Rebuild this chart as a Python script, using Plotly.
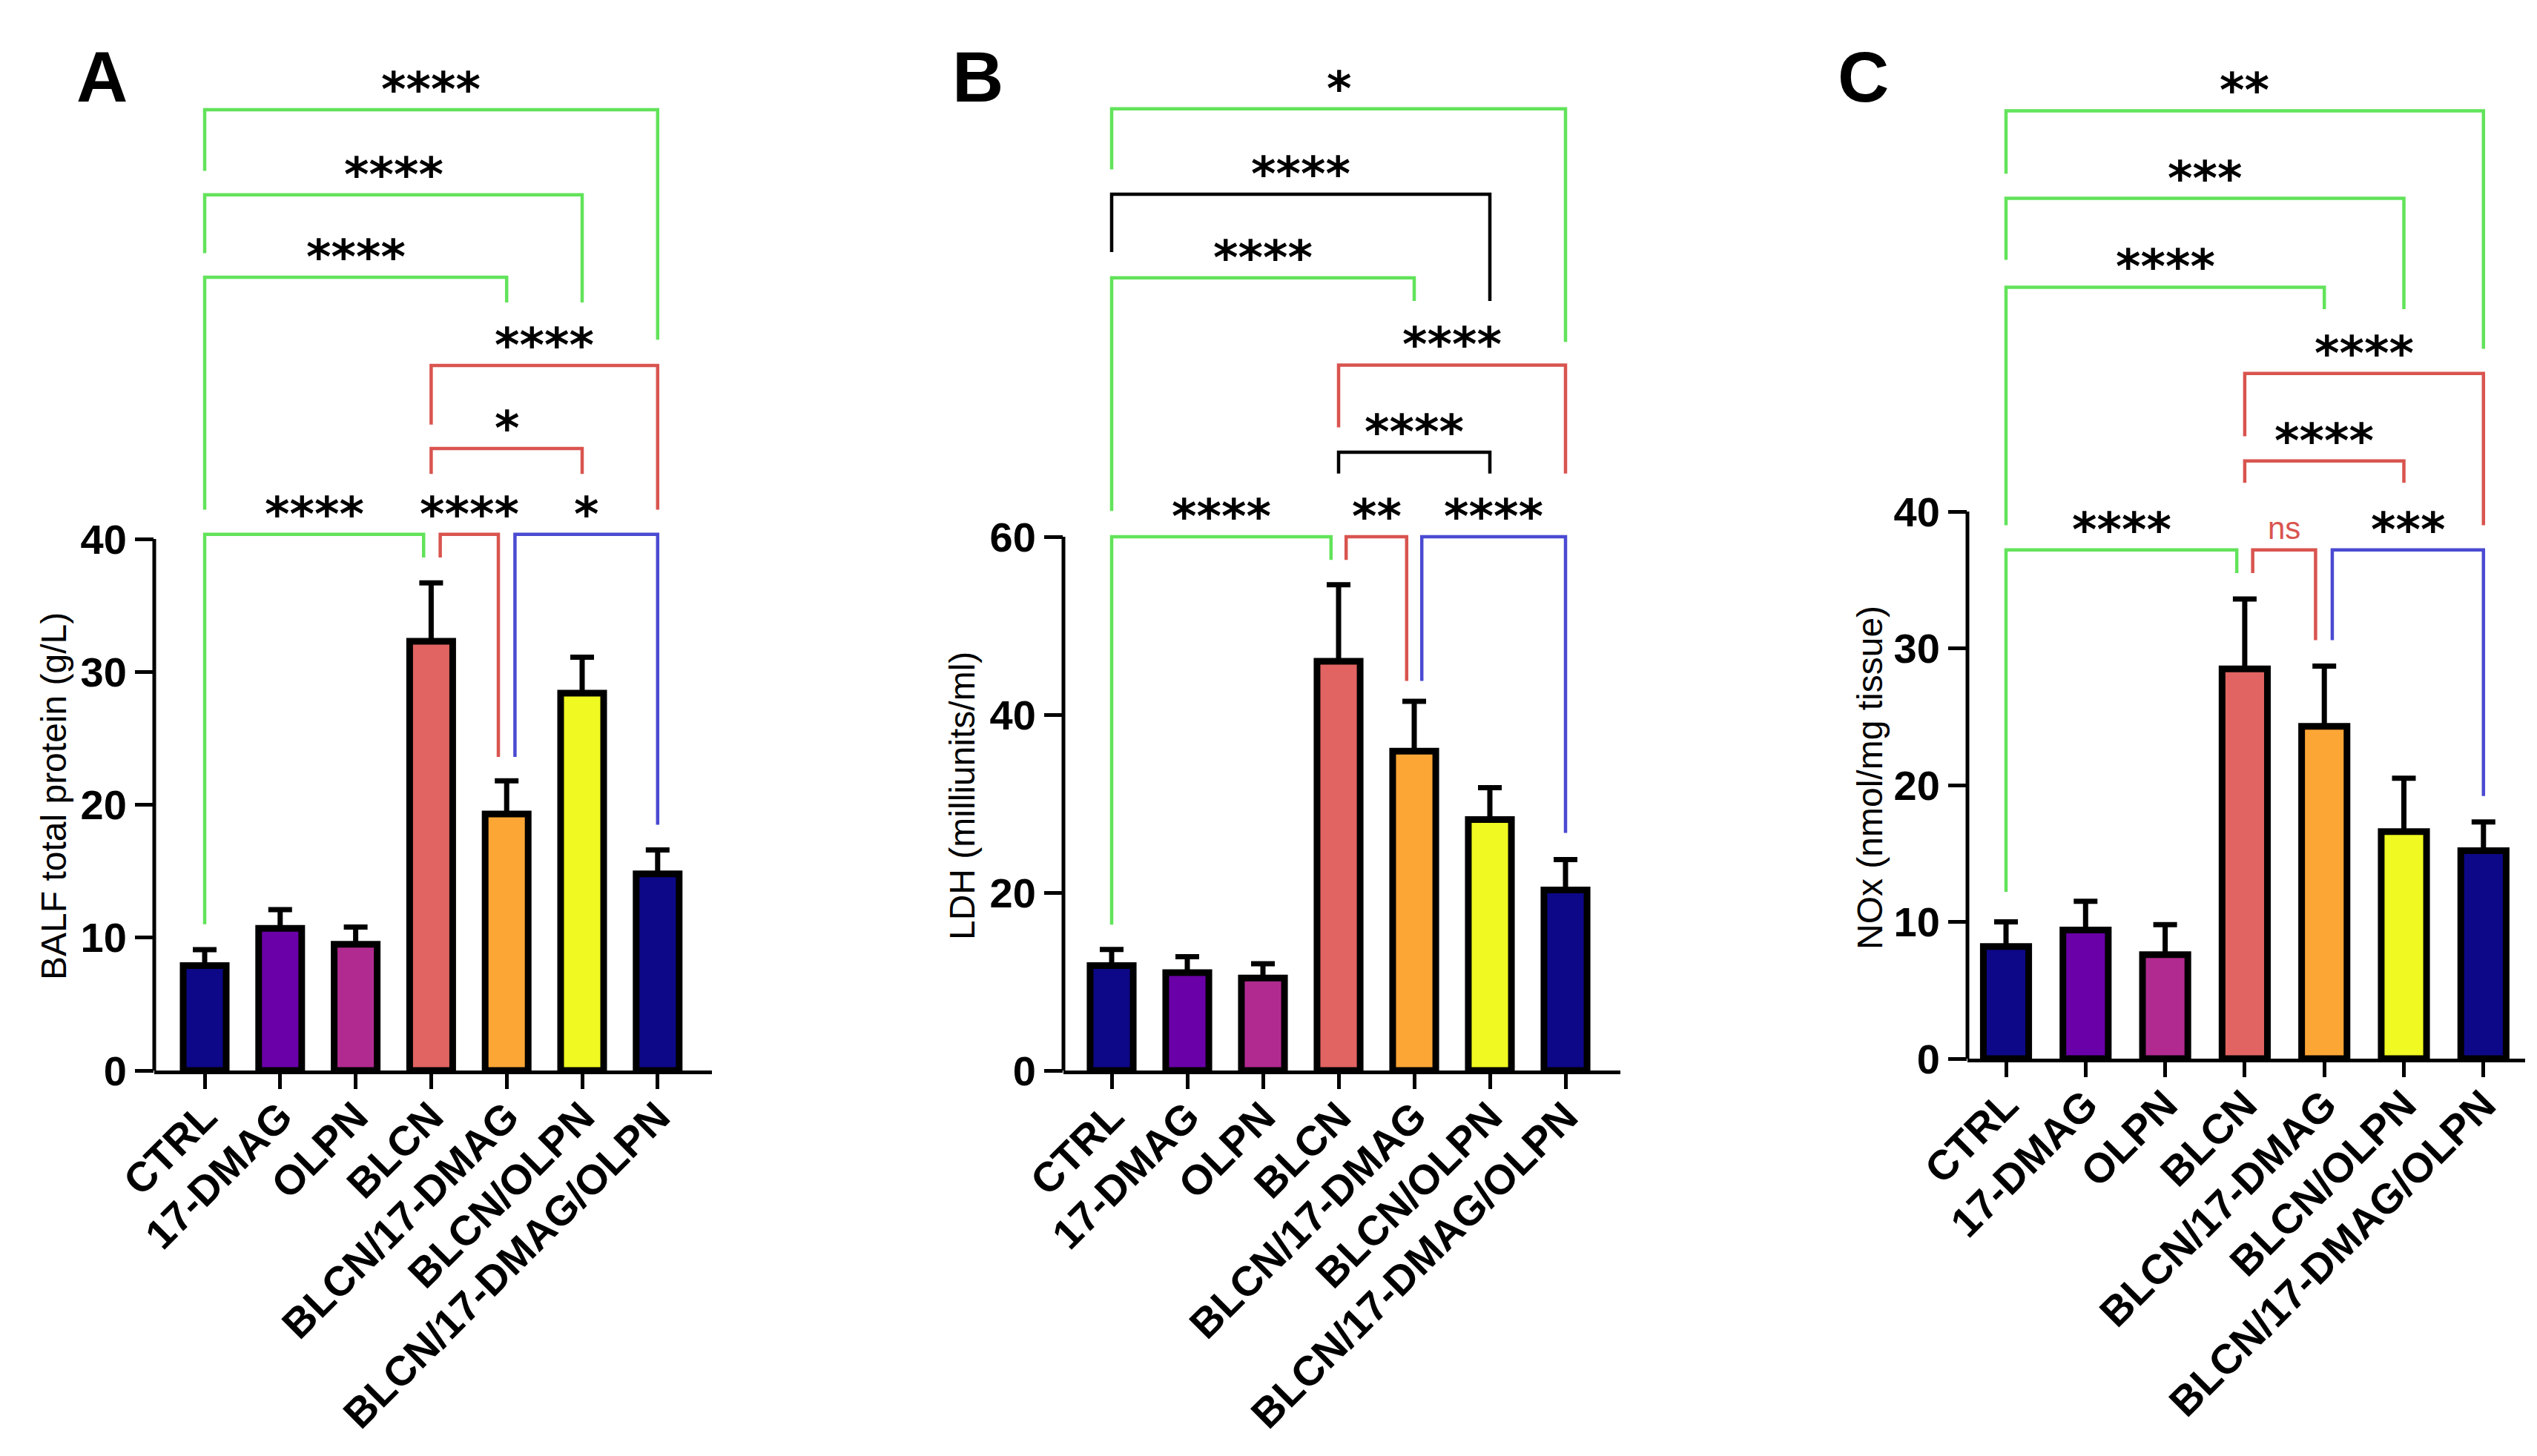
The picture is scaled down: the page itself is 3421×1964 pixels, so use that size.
import plotly.graph_objects as go

groups = ["CTRL", "17-DMAG", "OLPN", "BLCN", "BLCN/17-DMAG", "BLCN/OLPN", "BLCN/17-DMAG/OLPN"]
bar_colors = ["#0d0887", "#6a00a8", "#b12a90", "#e16462", "#fca636", "#f0f921", "#0d0887"]

balf_mean = [7.9, 10.7, 9.5, 32.3, 19.3, 28.4, 14.8]
balf_err = [1.2, 1.4, 1.3, 4.4, 2.5, 2.7, 1.8]

ldh_mean = [11.8, 11.0, 10.4, 46.0, 35.9, 28.2, 20.3]
ldh_err = [1.8, 1.8, 1.6, 8.6, 5.6, 3.6, 3.4]

nox_mean = [8.2, 9.4, 7.6, 28.5, 24.3, 16.6, 15.2]
nox_err = [1.8, 2.1, 2.2, 5.1, 4.4, 3.9, 2.1]

GREEN = "#62e35a"
RED = "#d9544f"
BLUE = "#4a4ad2"
BLACK = "#000000"

# brackets: (left x, right x, height, left foot, right foot, label, colour)
balf_brackets = [
    (0, 2.9, 40.35, 11.0, 38.6, "****", GREEN),
    (3.12, 3.89, 40.35, 38.6, 23.6, "****", RED),
    (4.11, 6, 40.35, 23.6, 18.5, "*", BLUE),
    (3, 5, 46.8, 44.9, 44.9, "*", RED),
    (3, 6, 53.05, 48.6, 42.2, "****", RED),
    (0, 4, 59.7, 42.2, 57.8, "****", GREEN),
    (0, 5, 65.9, 61.5, 57.8, "****", GREEN),
    (0, 6, 72.3, 67.7, 55.0, "****", GREEN),
]
ldh_brackets = [
    (0, 2.9, 60.0, 16.4, 57.4, "****", GREEN),
    (3.1, 3.9, 60.0, 57.4, 43.8, "**", RED),
    (4.1, 6, 60.0, 43.8, 26.7, "****", BLUE),
    (3, 5, 69.5, 67.1, 67.1, "****", BLACK),
    (3, 6, 79.3, 72.3, 67.1, "****", RED),
    (0, 4, 89.1, 62.9, 86.5, "****", GREEN),
    (0, 5, 98.5, 92.0, 86.5, "****", BLACK),
    (0, 6, 108.1, 101.3, 81.9, "*", GREEN),
]
nox_brackets = [
    (0, 2.9, 37.2, 12.2, 35.5, "****", GREEN),
    (3.1, 3.89, 37.2, 35.5, 30.6, "ns", RED),
    (4.1, 6, 37.2, 30.6, 19.2, "***", BLUE),
    (3, 5, 43.7, 42.1, 42.1, "****", RED),
    (3, 6, 50.1, 45.5, 39.0, "****", RED),
    (0, 4, 56.4, 39.0, 54.8, "****", GREEN),
    (0, 5, 62.9, 58.4, 54.8, "***", GREEN),
    (0, 6, 69.3, 64.7, 51.9, "**", GREEN),
]

balf_ticks = [0, 10, 20, 30, 40]
ldh_ticks = [0, 20, 40, 60]
nox_ticks = [0, 10, 20, 30, 40]

# page is 3421x1964; the html body keeps an 8px margin around the figure
OFF = 8
W, H = 3421 - 2 * OFF, 1964 - 2 * OFF

# pixel geometry of each panel (page coordinates)
panels = [
    dict(letter="A", lx=137, title="BALF total protein (g/L)", tx=72, ty=1074,
         left=208, right=960, c0=276, step=101.8, zero=1444, top=727,
         mean=balf_mean, err=balf_err, ticks=balf_ticks, brackets=balf_brackets),
    dict(letter="B", lx=1318, title="LDH (milliunits/ml)", tx=1297, ty=1074,
         left=1434, right=2185, c0=1499, step=102.0, zero=1444, top=724,
         mean=ldh_mean, err=ldh_err, ticks=ldh_ticks, brackets=ldh_brackets),
    dict(letter="C", lx=2512, title="NOx (nmol/mg tissue)", tx=2521, ty=1049,
         left=2653, right=3405, c0=2705, step=107.3, zero=1428, top=690,
         mean=nox_mean, err=nox_err, ticks=nox_ticks, brackets=nox_brackets),
]


def px(v):
    return (v - OFF) / W


def py(v):
    return 1 - (v - OFF) / H


fig = go.Figure()
layout = dict(
    width=W, height=H,
    margin=dict(l=0, r=0, t=0, b=0),
    paper_bgcolor="white", plot_bgcolor="white",
    showlegend=False,
    font=dict(family="Liberation Sans, Arial", color="black"),
)
shapes = []
annotations = []

for i, p in enumerate(panels):
    n = "" if i == 0 else str(i + 1)
    xa, ya = "x" + n, "y" + n
    ymax = p["ticks"][-1]
    ppu = (p["zero"] - p["top"]) / ymax
    ytop = (p["zero"] - 40) / ppu

    fig.add_trace(go.Bar(
        x=list(range(len(groups))), y=p["mean"], width=0.57,
        marker=dict(color=bar_colors, line=dict(color="black", width=9)),
        error_y=dict(type="data", array=p["err"], arrayminus=[0] * len(groups),
                     symmetric=False, color="black", thickness=7, width=16),
        xaxis=xa, yaxis=ya,
    ))

    layout["xaxis" + n] = dict(
        domain=[px(p["left"]), px(p["right"])],
        range=[(p["left"] - p["c0"]) / p["step"], (p["right"] - p["c0"]) / p["step"]],
        anchor=ya, tickvals=list(range(len(groups))), ticktext=groups, tickangle=-45,
        tickfont=dict(size=56, weight="bold", family="Liberation Sans, Arial"),
        ticks="outside", ticklen=20, tickwidth=5, tickcolor="black", ticklabelstandoff=-18,
        showline=True, linewidth=5, linecolor="black",
        showgrid=False, zeroline=False, automargin=False,
    )
    layout["yaxis" + n] = dict(
        domain=[py(p["zero"]), py(40)], range=[0, ytop], anchor=xa,
        tickvals=p["ticks"],
        tickfont=dict(size=56, weight="bold", family="Liberation Sans, Arial"),
        ticks="outside", ticklen=25, tickwidth=5, tickcolor="black",
        showline=False, showgrid=False, zeroline=False, automargin=False,
    )
    # y axis line stops at the top tick
    shapes.append(dict(type="line", xref=xa + " domain", yref=ya, x0=0, x1=0,
                       y0=0, y1=ymax, line=dict(color="black", width=5)))

    for x1, x2, lev, f1, f2, lab, col in p["brackets"]:
        shapes.append(dict(type="path", xref=xa, yref=ya,
                           path=f"M {x1},{f1} L {x1},{lev} L {x2},{lev} L {x2},{f2}",
                           line=dict(color=col, width=4.5)))
        if lab == "ns":
            annotations.append(dict(x=(x1 + x2) / 2, y=lev, xref=xa, yref=ya, text=lab,
                                    showarrow=False, yanchor="bottom", yshift=4,
                                    font=dict(size=42, color=RED, family="Liberation Sans, Arial")))
        else:
            annotations.append(dict(x=(x1 + x2) / 2, y=lev, xref=xa, yref=ya, text=lab,
                                    showarrow=False, yanchor="bottom", yshift=-12,
                                    font=dict(size=64, color="black", weight="bold",
                                              family="DejaVu Sans")))

    annotations.append(dict(x=px(p["tx"]), y=py(p["ty"]), xref="paper", yref="paper",
                            text=p["title"], textangle=-90, showarrow=False,
                            xanchor="center", yanchor="middle",
                            font=dict(size=48, family="Liberation Sans, Arial")))
    annotations.append(dict(x=px(p["lx"]), y=py(103), xref="paper", yref="paper",
                            text=p["letter"], showarrow=False, xanchor="center", yanchor="middle",
                            font=dict(size=96, weight="bold", family="Liberation Sans, Arial")))

layout["shapes"] = shapes
layout["annotations"] = annotations
fig.update_layout(**layout)

fig.write_html("out.html")
